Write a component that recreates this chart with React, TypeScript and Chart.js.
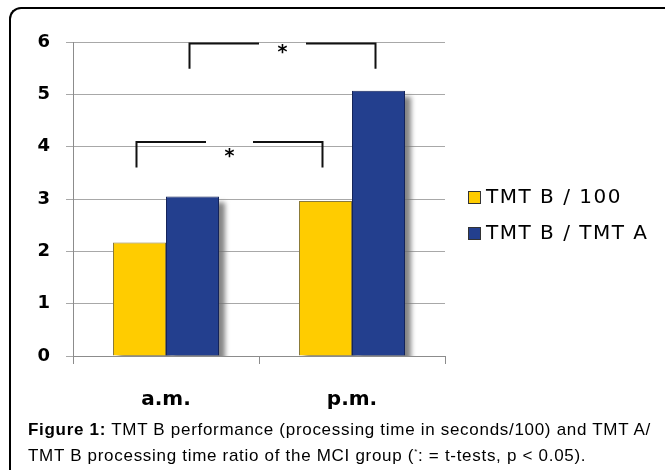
import React, { useEffect, useRef } from "react";
import { Chart, registerables } from "chart.js";

Chart.register(...registerables);

const categories = ["a.m.", "p.m."];
const seriesLabels = ["TMT B / 100", "TMT B / TMT A"];
const tmtB100 = [2.17, 2.96];
const tmtBA = [3.05, 5.07];
const seriesColors = ["#FFCC00", "#233F8E"];
const seriesBorders = ["#8a7a3a", "#14245a"];
const yTicks = [0, 1, 2, 3, 4, 5, 6];
// significance brackets: dataset compared across a.m./p.m., top and foot values
const bracketDataset = [0, 1];
const bracketTop = [4.09, 5.97];
const bracketFoot = [3.6, 5.49];
const bracketMark = ["*", "*"];

const shadowPlugin = {
  id: "barShadow",
  beforeDatasetsDraw(chart: any) {
    const ctx = chart.ctx;
    const area = chart.chartArea;
    ctx.save();
    ctx.beginPath();
    ctx.rect(area.left, area.top - 20, area.right - area.left + 20, area.bottom - area.top + 20);
    ctx.clip();
    ctx.filter = "blur(2.5px)";
    ctx.fillStyle = "rgba(110,110,110,0.85)";
    chart.data.datasets.forEach((_: any, di: number) => {
      const meta = chart.getDatasetMeta(di);
      meta.data.forEach((bar: any) => {
        const w = bar.width;
        const left = bar.x - w / 2;
        ctx.fillRect(left + 6, bar.y + 6, w, bar.base - bar.y);
      });
    });
    ctx.restore();
  },
};

const bracketPlugin = {
  id: "brackets",
  afterDatasetsDraw(chart: any) {
    const ctx = chart.ctx;
    const y = chart.scales.y;
    ctx.save();
    ctx.strokeStyle = "#111";
    ctx.lineWidth = 2;
    ctx.fillStyle = "#000";
    ctx.font = "bold 19px 'DejaVu Sans'";
    ctx.textAlign = "center";
    ctx.textBaseline = "middle";
    bracketDataset.forEach((di, i) => {
      const meta = chart.getDatasetMeta(di);
      const x1 = meta.data[0].x - 3;
      const x2 = meta.data[1].x - 3;
      const yt = y.getPixelForValue(bracketTop[i]);
      const yf = y.getPixelForValue(bracketFoot[i]);
      const mid = (x1 + x2) / 2;
      const gap = 23.5;
      ctx.beginPath();
      ctx.moveTo(x1, yf);
      ctx.lineTo(x1, yt);
      ctx.lineTo(mid - gap, yt);
      ctx.moveTo(mid + gap, yt);
      ctx.lineTo(x2, yt);
      ctx.lineTo(x2, yf);
      ctx.stroke();
      ctx.fillText(bracketMark[i], mid, yt + (i === 0 ? 15 : 9));
    });
    ctx.restore();
  },
};

const legendPlugin = {
  id: "sideLegend",
  afterDraw(chart: any) {
    const ctx = chart.ctx;
    ctx.save();
    ctx.font = "20px 'DejaVu Sans'";
    (ctx as any).letterSpacing = "1.5px";
    ctx.textBaseline = "middle";
    ctx.textAlign = "left";
    chart.data.datasets.forEach((ds: any, i: number) => {
      const cy = 197 + i * 36;
      ctx.fillStyle = ds.backgroundColor;
      ctx.fillRect(468, cy - 6, 13, 13);
      ctx.strokeStyle = "#333";
      ctx.lineWidth = 1;
      ctx.strokeRect(468.5, cy - 5.5, 12, 12);
      ctx.fillStyle = "#000";
      ctx.fillText(ds.label, 486, cy + 1);
    });
    ctx.restore();
  },
};

export default function App() {
  const ref = useRef<HTMLCanvasElement>(null);
  useEffect(() => {
    const chart = new Chart(ref.current as HTMLCanvasElement, {
      type: "bar",
      data: {
        labels: categories,
        datasets: [
          {
            label: seriesLabels[0],
            data: tmtB100,
            backgroundColor: seriesColors[0],
            borderColor: seriesBorders[0],
            borderWidth: 1,
          },
          {
            label: seriesLabels[1],
            data: tmtBA,
            backgroundColor: seriesColors[1],
            borderColor: seriesBorders[1],
            borderWidth: 1,
          },
        ],
      },
      options: {
        animation: false,
        responsive: false,
        devicePixelRatio: 1,
        datasets: { bar: { categoryPercentage: 0.57, barPercentage: 1 } },
        layout: { padding: { left: 0, top: 42, right: 220, bottom: 0 } },
        plugins: { legend: { display: false }, tooltip: { enabled: false } },
        scales: {
          x: {
            grid: {
              display: true,
              drawOnChartArea: false,
              tickLength: 8,
              color: "#8c8c8c",
            },
            border: { color: "#8c8c8c" },
            ticks: {
              color: "#000",
              padding: 24,
              font: { family: "'DejaVu Sans'", size: 20, weight: "bold" },
            },
            afterFit(scale: any) {
              scale.height = 114;
            },
          },
          y: {
            min: 0,
            max: 6,
            afterBuildTicks(scale: any) {
              scale.ticks = yTicks.map((v) => ({ value: v }));
            },
            grid: { color: "#a8a8a8", tickLength: 7 },
            border: { color: "#8c8c8c" },
            ticks: {
              color: "#000",
              padding: 16,
              font: { family: "'DejaVu Sans'", size: 18, weight: "bold" },
            },
            afterFit(scale: any) {
              scale.width = 73;
            },
          },
        },
      },
      plugins: [shadowPlugin, bracketPlugin, legendPlugin],
    });
    return () => chart.destroy();
  }, []);

  return (
    <div
      style={{
        position: "fixed",
        left: 0,
        top: 0,
        width: 665,
        height: 470,
        background: "#fff",
        overflow: "hidden",
      }}
    >
      <canvas ref={ref} width={665} height={470} style={{ position: "absolute", left: 0, top: 0 }} />
      <div
        style={{
          position: "absolute",
          left: 9,
          top: 7,
          width: 720,
          height: 480,
          borderLeft: "2px solid #000",
          borderTop: "2px solid #000",
          borderTopLeftRadius: 12,
          boxSizing: "border-box",
          pointerEvents: "none",
        }}
      />
      <div
        style={{
          position: "absolute",
          left: 28,
          top: 419,
          fontFamily: "'Liberation Sans', Arial, sans-serif",
          fontSize: 17,
          letterSpacing: "0.7px",
          lineHeight: "22px",
          color: "#000",
          whiteSpace: "nowrap",
        }}
      >
        <div>
          <b>Figure 1:</b> TMT B performance (processing time in seconds/100) and TMT A/
        </div>
        <div>
          TMT B processing time ratio of the MCI group (<sup style={{ fontSize: 8 }}>*</sup>: = t-tests, p &lt; 0.05).
        </div>
      </div>
    </div>
  );
}
